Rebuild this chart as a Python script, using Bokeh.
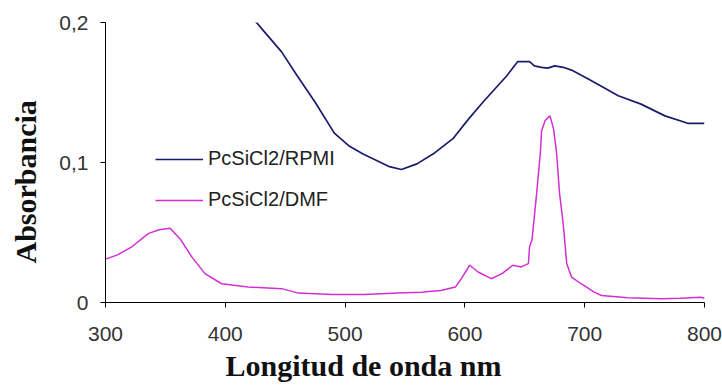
from bokeh.plotting import figure
from bokeh.models import Range1d, FixedTicker, CustomJSTickFormatter, Legend, LegendItem, Title
from bokeh.embed import file_html
from bokeh.resources import INLINE

# ---- data ----
wl_rpmi = [425, 435, 447, 460, 475, 491, 503, 515, 525, 537, 547, 560, 575, 590, 603,
           615, 625, 635, 644, 654, 658, 664, 669, 675, 682, 689, 703, 715, 728, 747,
           767, 786, 800]
abs_rpmi = [0.201, 0.191, 0.179, 0.162, 0.143, 0.121, 0.112, 0.106, 0.102, 0.097, 0.095,
            0.099, 0.107, 0.117, 0.131, 0.143, 0.1525, 0.162, 0.172, 0.172, 0.169, 0.168,
            0.1674, 0.169, 0.168, 0.166, 0.1597, 0.154, 0.1477, 0.1417, 0.1333, 0.128, 0.128]

wl_dmf = [300, 310, 322, 336, 345, 354, 363, 372, 383, 397, 419, 447, 461, 489, 516, 544,
          564, 572, 580, 592, 597, 604, 611, 622, 631, 640, 647, 653, 654, 656, 660, 663,
          664, 667, 671, 674, 676.5, 679, 682, 685, 689, 697, 708, 714, 736, 764, 780, 797, 800]
abs_dmf = [0.031, 0.034, 0.0398, 0.0494, 0.052, 0.053, 0.0446, 0.0326, 0.0206, 0.0134, 0.011,
           0.0099, 0.0067, 0.0058, 0.0058, 0.0067, 0.0074, 0.008, 0.0086, 0.011, 0.017, 0.0266,
           0.0218, 0.017, 0.0206, 0.0266, 0.0254, 0.0278, 0.040, 0.0446, 0.079, 0.107, 0.1225,
           0.130, 0.1333, 0.124, 0.107, 0.078, 0.0566, 0.0278, 0.0182, 0.0134, 0.0074, 0.005,
           0.0034, 0.0026, 0.003, 0.0038, 0.003]

series_names = ["PcSiCl2/RPMI", "PcSiCl2/DMF"]
x_ticks = [300, 400, 500, 600, 700, 800]
y_ticks = [0, 0.1, 0.2]
x_title = "Longitud de onda nm"
y_title = "Absorbancia"

# ---- figure ----
p = figure(width=722, height=385, output_backend="svg", toolbar_location=None,
           x_range=Range1d(300, 800), y_range=Range1d(0, 0.2),
           x_axis_location="below", y_axis_location="left")
p.min_border_left = 105
p.min_border_right = 18
p.min_border_top = 22
p.min_border_bottom = 83
p.outline_line_color = None
p.background_fill_color = "white"
p.border_fill_color = "white"
p.xgrid.visible = False
p.ygrid.visible = False

for ax in (p.xaxis[0], p.yaxis[0]):
    ax.axis_line_color = "black"
    ax.axis_line_width = 1
    ax.major_tick_line_color = "black"
    ax.major_tick_in = 0
    ax.major_tick_out = 5
    ax.minor_tick_line_color = None
    ax.major_label_text_font = "Liberation Sans"
    ax.major_label_text_font_size = "21px"
    ax.major_label_text_color = "#333333"

p.xaxis.ticker = FixedTicker(ticks=x_ticks)
p.yaxis.ticker = FixedTicker(ticks=y_ticks)
p.yaxis.formatter = CustomJSTickFormatter(
    code="return tick === 0 ? '0' : tick.toFixed(1).replace('.', ',');")
p.xaxis.major_label_standoff = 19
p.yaxis.major_label_standoff = 12
# spacer between the y tick labels and the y title
p.yaxis.axis_label = " "
p.yaxis.axis_label_text_font_size = "10px"
p.yaxis.axis_label_standoff = 0

r1 = p.line(wl_rpmi, abs_rpmi, line_color="#1b1b6b", line_width=1.7)
r2 = p.line(wl_dmf, abs_dmf, line_color="#d22fd2", line_width=1.5)

legend = Legend(items=[LegendItem(label=series_names[0], renderers=[r1]),
                       LegendItem(label=series_names[1], renderers=[r2])],
                location=(50, 91), orientation="vertical")
legend.padding = 0
legend.margin = 0
legend.border_line_color = None
legend.background_fill_alpha = 0
legend.glyph_width = 48
legend.glyph_height = 20
legend.label_height = 20
legend.spacing = 18
legend.label_standoff = 5
legend.label_text_font = "Liberation Sans"
legend.label_text_font_size = "20px"
legend.label_text_color = "#222222"
p.add_layout(legend, "center")

# axis titles
xt = Title(text=x_title, align="left", offset=120, text_font="Liberation Serif",
           text_font_style="bold", text_font_size="30px", text_color="#111111",
           standoff=7)
yt = Title(text=y_title, align="left", offset=39, text_font="Liberation Serif",
           text_font_style="bold", text_font_size="30px", text_color="#111111",
           standoff=2)
p.add_layout(xt, "below")
p.add_layout(yt, "left")

open("out.html", "w").write(file_html(p, INLINE))
